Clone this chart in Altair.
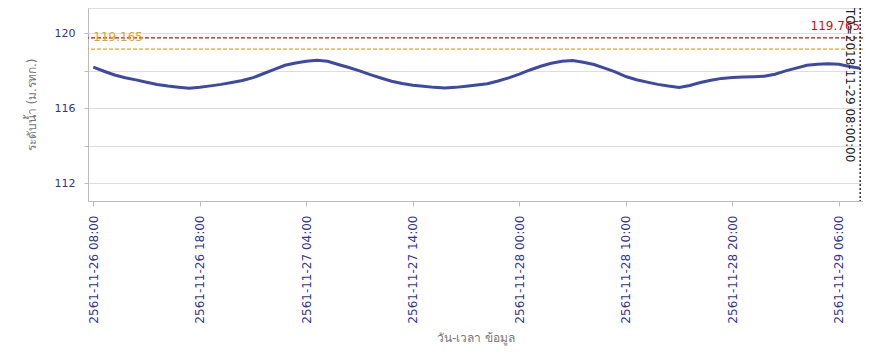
import altair as alt
import pandas as pd

# hourly water level (m MSL) from 2018-11-26 08:00 to 2018-11-29 08:00
levels = [
    118.20, 117.98, 117.78, 117.63, 117.52, 117.39, 117.27, 117.19, 117.13, 117.08,
    117.13, 117.20, 117.28, 117.38, 117.49, 117.64, 117.86, 118.08, 118.30, 118.42,
    118.52, 118.57, 118.51, 118.34, 118.18, 118.00, 117.80, 117.62, 117.45, 117.33,
    117.23, 117.18, 117.12, 117.08, 117.12, 117.18, 117.25, 117.31, 117.46, 117.63,
    117.83, 118.05, 118.25, 118.41, 118.52, 118.55, 118.46, 118.34, 118.15, 117.95,
    117.70, 117.53, 117.40, 117.28, 117.19, 117.12, 117.22, 117.38, 117.50, 117.60,
    117.65, 117.67, 117.69, 117.72, 117.82, 118.00, 118.15, 118.30, 118.36, 118.38,
    118.35, 118.24, 118.14,
]
start_time = "2018-11-26 08:00"

tick_times = [
    "2018-11-26 08:00", "2018-11-26 18:00", "2018-11-27 04:00", "2018-11-27 14:00",
    "2018-11-28 00:00", "2018-11-28 10:00", "2018-11-28 20:00", "2018-11-29 06:00",
]
y_ticks = [112, 113, 114, 115, 116, 117, 118, 119, 120, 121]

red_level = 119.765
orange_level = 119.165
marker_time = "2018-11-29 08:00"
marker_label = "TO=2018-11-29 08:00:00"

x_title = "วัน-เวลา ข้อมูล"
y_title = "ระดับน้ำ (ม.รทก.)"


def iso(s):
    return pd.Timestamp(s).strftime("%Y-%m-%dT%H:%M:%SZ")


def dt(s):
    t = pd.Timestamp(s)
    return alt.DateTime(year=t.year, month=t.month, date=t.day,
                        hours=t.hour, minutes=t.minute, utc=True)


times = pd.date_range(start_time, periods=len(levels), freq="h")
df = pd.DataFrame({"time": [iso(t) for t in times], "level": levels})

x_scale = alt.Scale(type="utc", domain=[dt("2018-11-26 07:30"), dt("2018-11-29 08:16")])
y_scale = alt.Scale(domain=[111.05, 121.36], nice=False, zero=False)

label_color = "#33339A"
FONT = "DejaVu Sans"

x_axis = alt.Axis(
    values=[dt(t) for t in tick_times],
    labelExpr="(utcyear(datum.value) + 543) + utcFormat(datum.value, '-%m-%d %H:%M')",
    labelAngle=-90, labelAlign="right", labelBaseline="middle",
    labelColor=label_color, labelFont=FONT, labelFontSize=12, labelPadding=9,
    tickSize=5, tickColor="#BBBBBB", domainColor="#BBBBBB",
    grid=False, title=x_title, titleColor="#777777", titleFont=FONT,
    titleFontSize=12, titleFontWeight="normal", titlePadding=9,
)
y_axis = alt.Axis(
    values=y_ticks,
    labelExpr="datum.value % 4 === 0 ? datum.value : ''",
    labelColor=label_color, labelFont=FONT, labelFontSize=11, labelPadding=9,
    tickSize=4, tickColor="#BBBBBB", domainColor="#BBBBBB",
    grid=True, gridColor="#DDDDDD",
    gridOpacity={"condition": {"test": "datum.value % 2 === 0", "value": 1}, "value": 0},
    title=y_title, titleColor="#777777", titleFont=FONT, titleFontSize=12,
    titleFontWeight="normal", titlePadding=16,
)

base = alt.Chart(df)

line = base.mark_line(color="#3E49A6", strokeWidth=3).encode(
    x=alt.X("time:T", scale=x_scale, axis=x_axis),
    y=alt.Y("level:Q", scale=y_scale, axis=y_axis),
)

thr = pd.DataFrame({
    "level": [orange_level, red_level],
    "color": ["#E8A317", "#CC1111"],
})
rules = alt.Chart(thr).mark_rule(strokeDash=[4, 2], strokeWidth=1.2).encode(
    y=alt.Y("level:Q", scale=y_scale),
    color=alt.Color("color:N", scale=None),
)

orange_lab = alt.Chart(pd.DataFrame({
    "time": [iso(start_time)], "level": [orange_level], "txt": [f"{orange_level:.3f}"],
})).mark_text(align="left", baseline="bottom", dy=-5, color="#E8A317",
              font=FONT, fontSize=12).encode(
    x=alt.X("time:T", scale=x_scale), y=alt.Y("level:Q", scale=y_scale), text="txt:N")

red_lab = alt.Chart(pd.DataFrame({
    "time": [iso(marker_time)], "level": [red_level], "txt": [f"{red_level:.3f}"],
})).mark_text(align="right", baseline="bottom", dy=-5, color="#CC1111",
              font=FONT, fontSize=12).encode(
    x=alt.X("time:T", scale=x_scale), y=alt.Y("level:Q", scale=y_scale), text="txt:N")

mk = pd.DataFrame({"time": [iso(marker_time)], "txt": [marker_label]})
marker = alt.Chart(mk).mark_rule(strokeDash=[2, 2], strokeWidth=1.5, color="#333333").encode(
    x=alt.X("time:T", scale=x_scale))
marker_text = alt.Chart(mk).mark_text(angle=90, align="left", baseline="top", dy=5,
                                      color="#222222", font=FONT, fontSize=12).encode(
    x=alt.X("time:T", scale=x_scale), y=alt.value(0), text="txt:N")

chart = alt.layer(rules, line, orange_lab, red_lab, marker, marker_text).properties(
    width=775, height=193,
    autosize=alt.AutoSizeParams(type="none"),
    padding={"left": 80, "top": 0, "right": 0, "bottom": 146},
).configure_view(stroke=None).configure(background="white")

chart.save("out.html", embed_options={"renderer": "svg", "actions": False})
